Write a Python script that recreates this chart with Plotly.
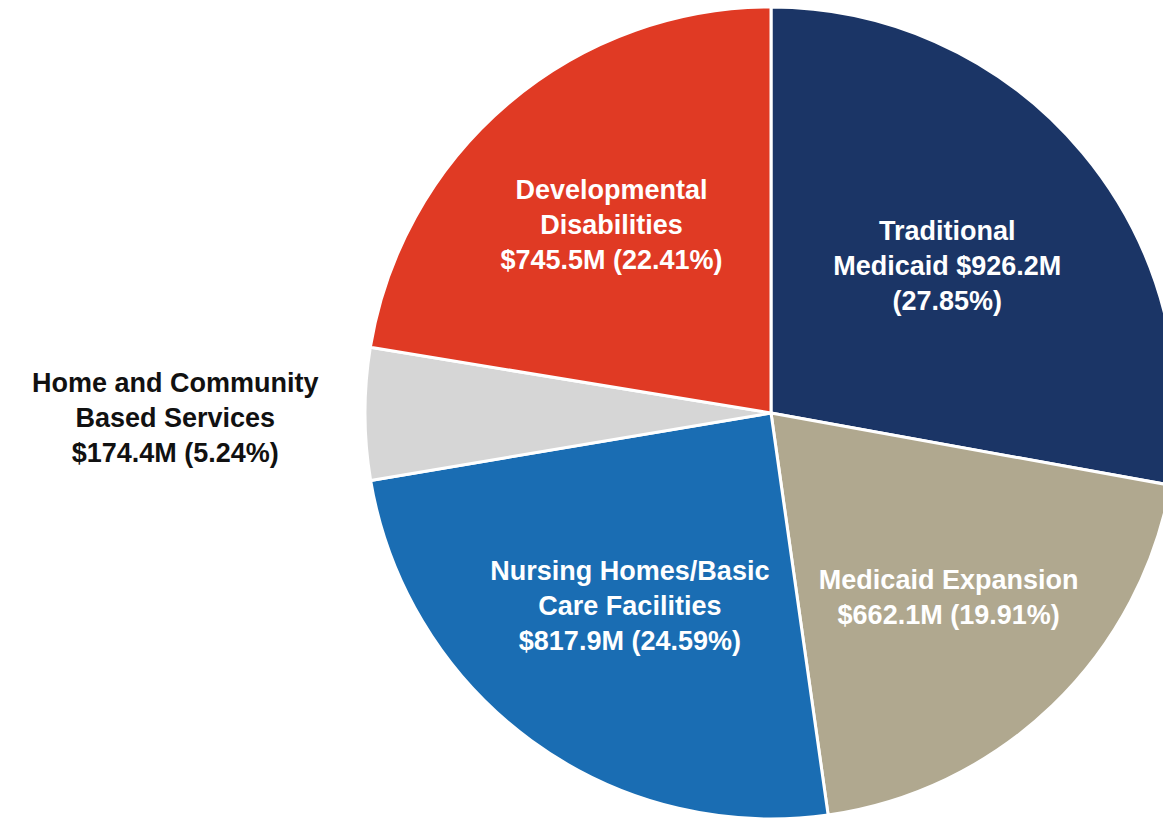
import plotly.graph_objects as go

categories = ["Traditional Medicaid", "Medicaid Expansion", "Nursing Homes/Basic Care Facilities",
              "Home and Community Based Services", "Developmental Disabilities"]
label_lines = ["Traditional<br>Medicaid", "Medicaid Expansion<br>", "Nursing Homes/Basic<br>Care Facilities<br>",
               "Home and Community<br>Based Services<br>", "Developmental<br>Disabilities<br>"]
values_m = [926.2, 662.1, 817.9, 174.4, 745.5]
percents = [27.85, 19.91, 24.59, 5.24, 22.41]
colors = ["#1b3566", "#b0a88f", "#1a6db3", "#d6d6d6", "#e03a24"]

texts = []
for i, (lab, v, p) in enumerate(zip(label_lines, values_m, percents)):
    if i == 0:
        texts.append(f"<b>{lab} ${v:.1f}M<br>({p:.2f}%)</b>")
    else:
        texts.append(f"<b>{lab}${v:.1f}M ({p:.2f}%)</b>")

positions = ["inside", "inside", "inside", "none", "inside"]

W, H = 1180, 824

fig = go.Figure(go.Pie(
    labels=categories,
    values=values_m,
    text=texts,
    textinfo="text",
    textposition=positions,
    insidetextorientation="horizontal",
    sort=False,
    direction="clockwise",
    rotation=0,
    marker=dict(colors=colors, line=dict(color="white", width=3)),
    insidetextfont=dict(family="Liberation Sans, Arial, sans-serif", size=27, color="white"),
    domain=dict(x=[365 / W, 1177 / W], y=[5 / H, 817 / H]),
    showlegend=False,
    hoverinfo="label+value+percent",
))

fig.add_annotation(
    x=175 / W, y=0.493, xref="paper", yref="paper",
    xanchor="center", yanchor="middle",
    text=f"<b>{label_lines[3]}${values_m[3]:.1f}M ({percents[3]:.2f}%)</b>",
    showarrow=False,
    font=dict(family="Liberation Sans, Arial, sans-serif", size=27, color="#111111"),
    align="center",
)

fig.update_layout(
    width=W, height=H,
    margin=dict(l=0, r=0, t=0, b=0),
    paper_bgcolor="white",
    plot_bgcolor="white",
    font=dict(family="Liberation Sans, Arial, sans-serif"),
)

fig.write_html("out.html", config={"displayModeBar": False},
               post_script="document.body.style.overflow='hidden';document.body.style.margin='0';")
